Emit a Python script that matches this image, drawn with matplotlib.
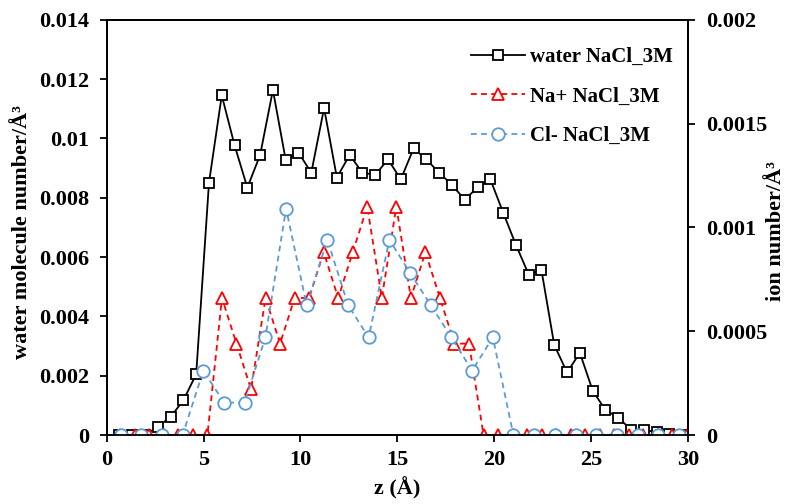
import matplotlib
matplotlib.use("Agg")
import matplotlib.pyplot as plt

plt.rcParams["font.family"] = ["Liberation Serif", "DejaVu Serif"]
plt.rcParams["font.weight"] = "bold"
plt.rcParams["font.size"] = 16

# Water density profile (left axis)
water_z = [0.66, 1.32, 1.98, 2.64, 3.30, 3.96, 4.62, 5.28, 5.94, 6.60, 7.26, 7.92,
           8.58, 9.24, 9.90, 10.56, 11.22, 11.88, 12.54, 13.20, 13.86, 14.52, 15.18,
           15.84, 16.50, 17.16, 17.82, 18.48, 19.14, 19.80, 20.46, 21.12, 21.78, 22.44,
           23.10, 23.76, 24.42, 25.08, 25.74, 26.40, 27.06, 27.72, 28.38, 29.04, 29.70]
water = [0, 0, 0, 0.00028, 0.00061, 0.00117, 0.00205, 0.0085, 0.01145, 0.00977,
         0.00834, 0.00944, 0.01163, 0.00927, 0.00952, 0.00884, 0.01102, 0.00868,
         0.00944, 0.00884, 0.00877, 0.00929, 0.00862, 0.00966, 0.00929, 0.00884,
         0.00843, 0.00793, 0.00835, 0.00862, 0.0075, 0.00641, 0.00541, 0.00555,
         0.00303, 0.00211, 0.00277, 0.0015, 0.00084, 0.00059, 0.00018, 0.00016,
         0.00011, 0.00005, 0]

# Na+ profile (right axis)
na_z = [0.70, 1.45, 2.20, 2.95, 3.70, 4.45, 5.20, 5.95, 6.70, 7.45, 8.20, 8.95,
        9.70, 10.45, 11.20, 11.95, 12.70, 13.45, 14.20, 14.95, 15.70, 16.45, 17.20,
        17.95, 18.70, 19.45, 20.20, 20.95, 21.70, 22.45, 23.20, 23.95, 24.70, 25.45,
        26.20, 26.95, 27.70, 28.45, 29.20, 29.95]
na = [0, 0, 0, 0, 0, 0, 0, 0.00066, 0.00044, 0.00022, 0.00066, 0.00044, 0.00066,
      0.00066, 0.00088, 0.00066, 0.00088, 0.0011, 0.00066, 0.0011, 0.00066, 0.00088,
      0.00066, 0.00044, 0.00044, 0, 0, 0, 0, 0, 0, 0, 0, 0, 0, 0, 0, 0, 0, 0]

# Cl- profile (right axis)
cl_z = [0.72, 1.79, 2.85, 3.92, 4.99, 6.06, 7.12, 8.19, 9.26, 10.32, 11.39, 12.46,
        13.52, 14.59, 15.66, 16.73, 17.79, 18.86, 19.93, 20.99, 22.06, 23.13, 24.20,
        25.26, 26.33, 27.40, 28.46, 29.53]
cl = [0, 0, 0, 0, 0.00031, 0.000156, 0.000156, 0.00047, 0.00109, 0.000625, 0.00094,
      0.000625, 0.00047, 0.00094, 0.00078, 0.000625, 0.00047, 0.00031, 0.00047,
      0, 0, 0, 0, 0, 0, 0, 0, 0]

left_ticks = [0, 0.002, 0.004, 0.006, 0.008, 0.01, 0.012, 0.014]
left_labels = ["0", "0.002", "0.004", "0.006", "0.008", "0.01", "0.012", "0.014"]
right_ticks = [0, 0.0005, 0.001, 0.0015, 0.002]
right_labels = ["0", "0.0005", "0.001", "0.0015", "0.002"]

fig = plt.figure(figsize=(7.86, 5.04), dpi=100)
ax = fig.add_axes([0.1357, 0.1369, 0.7396, 0.824])
ax2 = ax.twinx()

dash = (0, (3.2, 2.4))
h1, = ax.plot(water_z, water, color="black", lw=1.3, marker="s", ms=7.5,
              mfc="white", mec="black", mew=1.3, label="water NaCl_3M")
h2, = ax2.plot(na_z, na, color="#FF0000", lw=1.3, ls=dash, marker="^", ms=8.5,
               mfc="white", mec="#FF0000", mew=1.3, label="Na+ NaCl_3M")
h3, = ax2.plot(cl_z, cl, color="#5B9BD5", lw=1.3, ls=dash, marker="o", ms=9,
               mfc="white", mec="#5B9BD5", mew=1.3, label="Cl- NaCl_3M")

ax.set_xlim(0, 30)
ax.set_ylim(0, 0.014)
ax2.set_ylim(0, 0.002)
ax.set_xticks([0, 5, 10, 15, 20, 25, 30])
ax.set_yticks(left_ticks)
ax.set_yticklabels(left_labels)
ax2.set_yticks(right_ticks)
ax2.set_yticklabels(right_labels)

for a in (ax, ax2):
    for s in a.spines.values():
        s.set_linewidth(1.3)
    a.tick_params(direction="out", length=5, width=1.3, labelsize=16)
ax.tick_params(axis="x", pad=6)
ax.tick_params(axis="y", pad=7.5)
ax2.tick_params(axis="y", pad=8)

ax.set_xlabel("z (Å)", fontsize=16, fontweight="bold", va="center")
ax.set_ylabel("water molecule number/Å³", fontsize=16, fontweight="bold", va="center")
ax2.set_ylabel("ion number/Å³", fontsize=16, fontweight="bold", va="center")
ax.xaxis.set_label_coords(0.5, -0.1276)
ax.yaxis.set_label_coords(-0.1448, 0.489)
ax2.yaxis.set_label_coords(1.1514, 0.49)

ax2.legend(handles=[h1, h2, h3], loc="upper left", bbox_to_anchor=(0.599, 0.907),
           bbox_transform=fig.transFigure, frameon=False, fontsize=15,
           handlelength=2.6, handletextpad=0.25, labelspacing=0.94, borderpad=0,
           borderaxespad=0)

fig.savefig("out.png", dpi=100)
